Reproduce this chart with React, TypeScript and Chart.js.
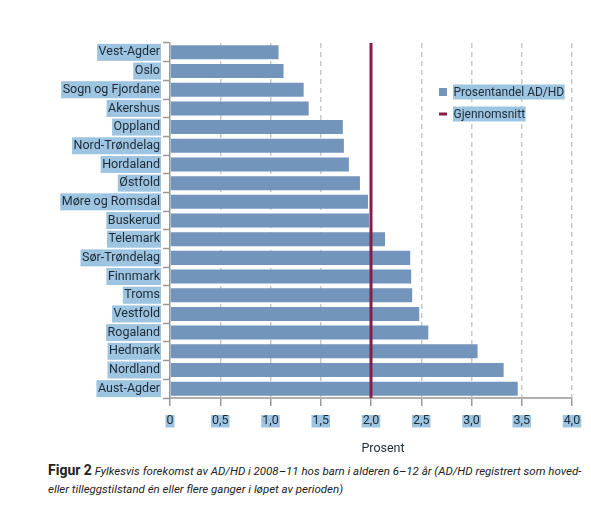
import React, { useEffect, useRef } from "react";
import { Chart, registerables } from "chart.js";

Chart.register(...registerables);

const categories = [
  "Vest-Agder", "Oslo", "Sogn og Fjordane", "Akershus", "Oppland", "Nord-Trøndelag",
  "Hordaland", "Østfold", "Møre og Romsdal", "Buskerud", "Telemark", "Sør-Trøndelag",
  "Finnmark", "Troms", "Vestfold", "Rogaland", "Hedmark", "Nordland", "Aust-Agder",
];
const prevalence = [
  1.08, 1.13, 1.33, 1.38, 1.72, 1.73, 1.78, 1.89, 1.97, 1.98, 2.14, 2.39, 2.4, 2.41, 2.48,
  2.57, 3.06, 3.32, 3.46,
];
const average = 2.0;
const xTickValues = [0, 0.5, 1, 1.5, 2, 2.5, 3, 3.5, 4];
const xTickLabels = ["0", "0,5", "1,0", "1,5", "2,0", "2,5", "3,0", "3,5", "4,0"];
const seriesLabel = "Prosentandel AD/HD";
const averageLabel = "Gjennomsnitt";
const axisTitle = "Prosent";

const BAR = "#7395bc";
const AVG = "#8a1c4a";
const HL = "#9dc4e0";
const TEXT = "#1e2a36";
const FONT = "Roboto";

export default function App() {
  const ref = useRef<HTMLCanvasElement | null>(null);

  useEffect(() => {
    if (!ref.current) return;

    const avgPlugin = {
      id: "avgLine",
      afterDatasetsDraw(chart: any) {
        const { ctx, chartArea, scales } = chart;
        const x = scales.x.getPixelForValue(average);
        ctx.save();
        ctx.strokeStyle = AVG;
        ctx.lineWidth = 3;
        ctx.beginPath();
        ctx.moveTo(x, chartArea.top);
        ctx.lineTo(x, chartArea.bottom);
        ctx.stroke();
        ctx.restore();
      },
    };

    const extrasPlugin = {
      id: "extras",
      afterDraw(chart: any) {
        const { ctx, chartArea } = chart;
        ctx.save();
        ctx.font = `12px ${FONT}`;
        ctx.textBaseline = "middle";
        ctx.textAlign = "left";
        const lx = chartArea.right - 133;
        const items = [
          { label: seriesLabel, y: chartArea.top + 49, type: "box" },
          { label: averageLabel, y: chartArea.top + 71, type: "line" },
        ];
        for (const it of items) {
          if (it.type === "box") {
            ctx.fillStyle = BAR;
            ctx.fillRect(lx, it.y - 4, 8, 8);
          } else {
            ctx.fillStyle = AVG;
            ctx.fillRect(lx, it.y - 1.5, 8, 3);
          }
          const tx = lx + 14;
          const w = ctx.measureText(it.label).width;
          ctx.fillStyle = HL;
          ctx.fillRect(tx, it.y - 7.5, w + 1, 15);
          ctx.fillStyle = TEXT;
          ctx.fillText(it.label, tx + 0.5, it.y + 0.5);
        }
        // axis title
        ctx.textAlign = "center";
        ctx.font = `12.5px ${FONT}`;
        ctx.fillStyle = TEXT;
        ctx.fillText(axisTitle, (chartArea.left + chartArea.right) / 2 + 12, chartArea.bottom + 51);
        ctx.restore();
      },
    };

    const chart = new Chart(ref.current, {
      type: "bar",
      data: {
        labels: categories,
        datasets: [
          {
            label: seriesLabel,
            data: prevalence,
            backgroundColor: BAR,
            borderWidth: 0,
            categoryPercentage: 1,
            barPercentage: 0.75,
          },
        ],
      },
      options: {
        indexAxis: "y",
        animation: false,
        responsive: true,
        maintainAspectRatio: false,
        layout: { padding: { top: 35, right: 0, left: 0, bottom: 0 } },
        plugins: {
          legend: { display: false },
          tooltip: { enabled: false },
        },
        scales: {
          x: {
            type: "linear",
            min: 0,
            max: 4,
            afterBuildTicks(scale: any) {
              scale.ticks = xTickValues.map((v) => ({ value: v }));
            },
            afterFit(scale: any) {
              scale.height = 60;
              scale.paddingRight = 11;
              scale.paddingLeft = 0;
            },
            ticks: {
              autoSkip: false,
              maxRotation: 0,
              padding: 9,
              color: TEXT,
              font: { family: FONT, size: 12.5, lineHeight: 1 },
              showLabelBackdrop: true,
              backdropColor: HL,
              backdropPadding: { top: 0, bottom: 0, left: 1, right: 1 },
              callback: (v: any) => {
                const i = xTickValues.indexOf(Number(v));
                return i >= 0 ? xTickLabels[i] : "";
              },
            },
            grid: {
              color: (c: any) => (c.tick && c.tick.value === 0 ? "rgba(0,0,0,0)" : "#c8c8c8"),
              lineWidth: 1.5,
              tickLength: 8,
              tickColor: "#9a9a9a",
              tickWidth: 1.5,
              tickBorderDash: [],
            },
            border: { color: "#b0b0b0", width: 2, dash: [5, 4] },
          },
          y: {
            type: "category",
            afterFit(scale: any) {
              scale.width = 162;
            },
            ticks: {
              autoSkip: false,
              padding: 3,
              color: TEXT,
              font: { family: FONT, size: 12.5, lineHeight: 1.2 },
              showLabelBackdrop: true,
              backdropColor: HL,
              backdropPadding: { top: 1, bottom: 1, left: 1.5, right: 1 },
            },
            grid: {
              offset: true,
              drawOnChartArea: false,
              tickLength: 7,
              tickColor: "#9a9a9a",
              tickWidth: 1.5,
            },
            border: { color: "#9a9a9a", width: 1.5 },
          },
        },
      },
      plugins: [avgPlugin, extrasPlugin],
    } as any);

    return () => chart.destroy();
  }, []);

  return (
    <div style={{ width: 575, fontFamily: FONT }}>
      <div style={{ position: "relative", width: 575, height: 450 }}>
        <canvas ref={ref} />
      </div>
      <div
        style={{
          marginTop: 3,
          paddingLeft: 40,
          lineHeight: "18px",
          color: "#222",
          fontSize: 11.5,
          whiteSpace: "nowrap",
        }}
      >
        <span style={{ fontWeight: 700, fontSize: 14, fontStyle: "normal" }}>Figur 2</span>{" "}
        <span style={{ fontStyle: "italic" }}>
          Fylkesvis forekomst av AD/HD i 2008–11 hos barn i alderen 6–12 år (AD/HD registrert som hoved-
          <br />
          eller tilleggstilstand én eller flere ganger i løpet av perioden)
        </span>
      </div>
    </div>
  );
}
